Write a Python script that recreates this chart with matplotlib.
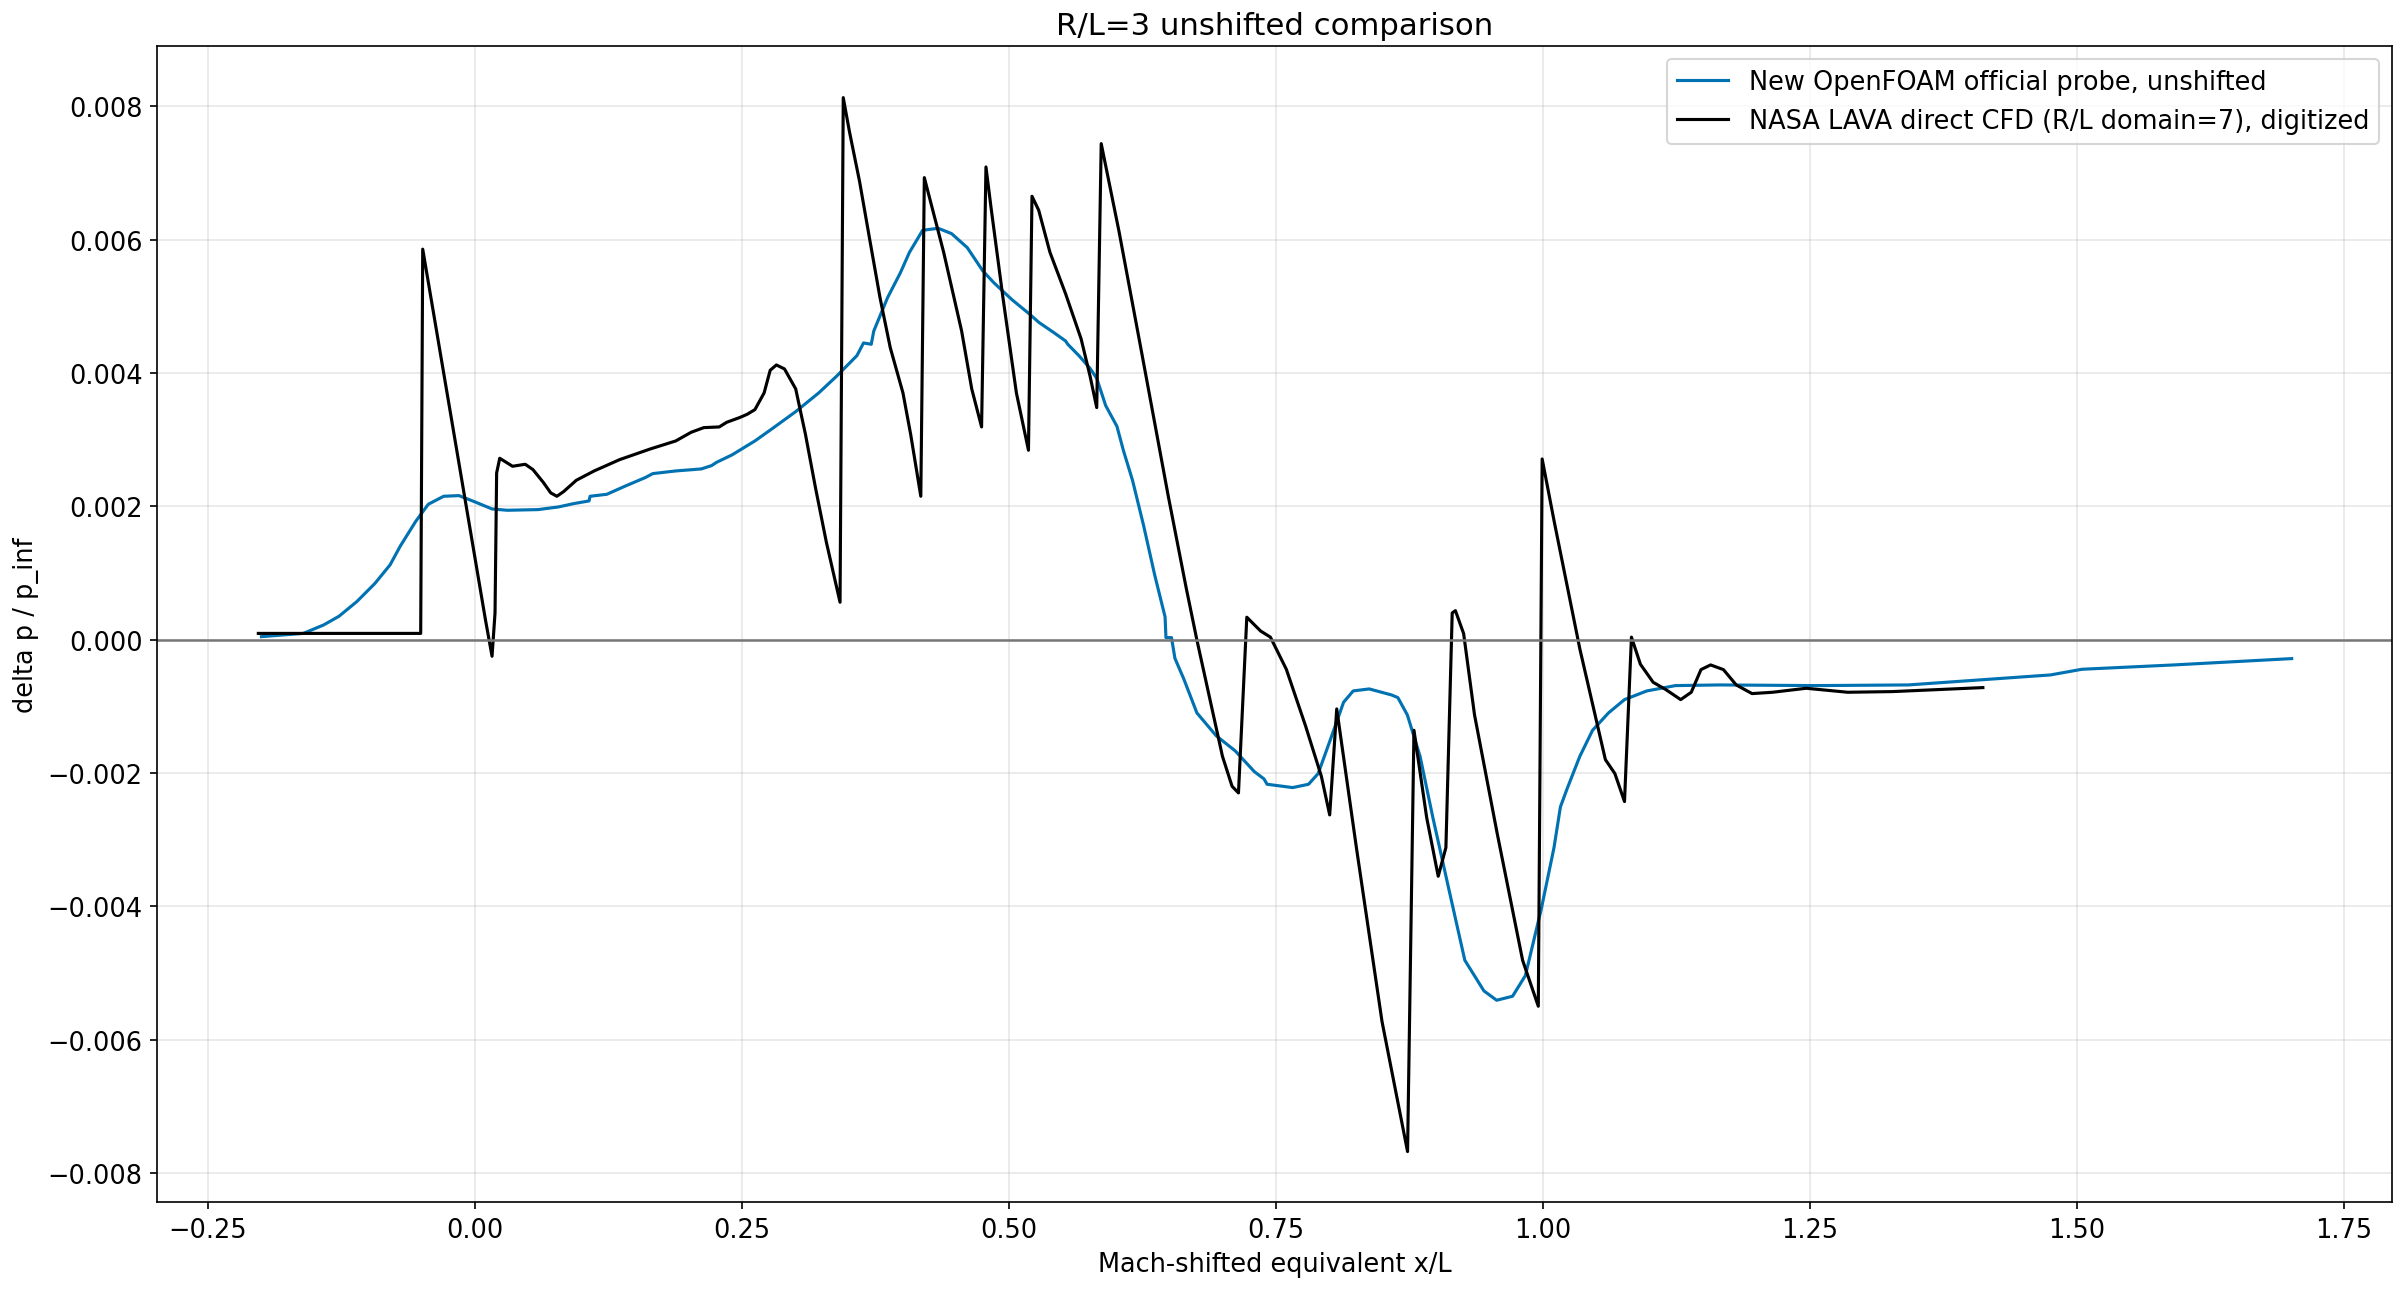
import matplotlib
matplotlib.use("Agg")
import matplotlib.pyplot as plt

# OpenFOAM probe (blue)
of_x = [-0.1997, -0.1605, -0.1414, -0.1271, -0.1104, -0.0936, -0.0793, -0.0698, -0.0554, -0.0435,
        -0.0291, -0.0148, -0.0005, 0.0162, 0.0306, 0.0592, 0.0784, 0.0927, 0.107, 0.108,
        0.1237, 0.1405, 0.1596, 0.1667, 0.1882, 0.2121, 0.2217, 0.2265, 0.2408, 0.2623,
        0.279, 0.3005, 0.322, 0.3387, 0.3578, 0.364, 0.3712, 0.3736, 0.3865, 0.3984,
        0.407, 0.413, 0.4193, 0.4339, 0.4464, 0.4611, 0.4757, 0.4862, 0.5029, 0.5196,
        0.528, 0.5426, 0.5531, 0.5552, 0.5656, 0.576, 0.5823, 0.5907, 0.6012, 0.6074,
        0.6158, 0.6262, 0.6367, 0.6463, 0.6471, 0.6523, 0.6555, 0.6638, 0.6761, 0.694,
        0.712, 0.7298, 0.7389, 0.7418, 0.7657, 0.7806, 0.7896, 0.8015, 0.8134, 0.8224,
        0.8374, 0.8582, 0.8642, 0.8731, 0.885, 0.897, 0.9119, 0.9269, 0.9448, 0.9567,
        0.9716, 0.9836, 0.9985, 1.0104, 1.0164, 1.0226, 1.0346, 1.0465, 1.0614, 1.0764,
        1.0973, 1.1241, 1.1659, 1.2555, 1.3421, 1.4752, 1.5047, 1.5907, 1.701]
of_y = [0.000044, 0.000093, 0.00022, 0.00035, 0.00057, 0.00084, 0.00112, 0.0014, 0.00177, 0.00203,
        0.00215, 0.00216, 0.00207, 0.00196, 0.00194, 0.00195, 0.00199, 0.00204, 0.00208, 0.00215,
        0.00218, 0.0023, 0.00243, 0.00249, 0.00253, 0.00256, 0.00261, 0.00266, 0.00277, 0.00298,
        0.00317, 0.00342, 0.0037, 0.00395, 0.00426, 0.00445, 0.00443, 0.00463, 0.00513, 0.0055,
        0.00581, 0.00597, 0.00614, 0.00617, 0.00609, 0.00588, 0.00553, 0.00535, 0.0051, 0.00488,
        0.00476, 0.0046, 0.00448, 0.00443, 0.00426, 0.00407, 0.00392, 0.00351, 0.0032, 0.00283,
        0.00239, 0.00171, 0.00096, 0.00034, 0.00003, 0.00003, -0.00028, -0.00059, -0.0011, -0.00144,
        -0.00167, -0.00198, -0.00209, -0.00217, -0.00222, -0.00217, -0.00201, -0.00148, -0.00094, -0.00077,
        -0.00074, -0.00083, -0.00087, -0.00113, -0.00175, -0.00267, -0.00374, -0.00481, -0.00527, -0.00541,
        -0.00535, -0.00504, -0.00404, -0.00312, -0.00251, -0.00224, -0.00175, -0.00136, -0.0011, -0.0009,
        -0.00077, -0.00069, -0.00068, -0.00069, -0.00068, -0.00053, -0.000445, -0.00038, -0.000285]

# NASA LAVA digitized (black)
nasa_x = [-0.2026, -0.0506, -0.0487, 0.0100, 0.0162, 0.0190, 0.0205, 0.0234, 0.0354, 0.0473, 0.0545, 0.0641,
          0.0712, 0.0769, 0.0832, 0.0951, 0.1118, 0.1357, 0.1644, 0.1882, 0.2026, 0.2145,
          0.2289, 0.2359, 0.2479, 0.2551, 0.2623, 0.2709, 0.2766, 0.2824, 0.2900, 0.3005,
          0.3096, 0.3191, 0.3292, 0.3420, 0.3450, 0.3508, 0.3603, 0.3698, 0.3794, 0.3890,
          0.4009, 0.4081, 0.4176, 0.4209, 0.4390, 0.4558, 0.4653, 0.4745, 0.4786, 0.4832,
          0.4945, 0.5071, 0.5184, 0.5217, 0.5280, 0.5385, 0.5531, 0.5677, 0.5761, 0.5823,
          0.5865, 0.6032, 0.6242, 0.6493, 0.6660, 0.6760, 0.7000, 0.7090, 0.7150, 0.7228,
          0.7357, 0.7449, 0.7598, 0.7777, 0.7926, 0.8004, 0.8070, 0.8254, 0.8494, 0.8733,
          0.8793, 0.8912, 0.9020, 0.9092, 0.9151, 0.9181, 0.9258, 0.9360, 0.9570, 0.9810,
          0.9957, 0.9993, 1.0106, 1.0346, 1.0585, 1.0674, 1.0764, 1.0829, 1.0913, 1.1032,
          1.1151, 1.1290, 1.1389, 1.1480, 1.1570, 1.1690, 1.1810, 1.1958, 1.2150, 1.2465,
          1.2854, 1.3271, 1.4119]
nasa_y = [0.000093, 0.000093, 0.005857, 0.00030, -0.00025, 0.00040, 0.00250, 0.00272, 0.00260, 0.00263, 0.00255, 0.00236,
          0.00220, 0.00215, 0.00222, 0.00239, 0.00253, 0.00270, 0.00286, 0.00298, 0.00311, 0.00318,
          0.00319, 0.00326, 0.00333, 0.00338, 0.00345, 0.00370, 0.00404, 0.00412, 0.00406, 0.00376,
          0.00308, 0.00227, 0.00146, 0.00056, 0.00813, 0.00762, 0.00687, 0.00600, 0.00513, 0.00438,
          0.00370, 0.00308, 0.00215, 0.00693, 0.00581, 0.00463, 0.00376, 0.00319, 0.00709, 0.00650,
          0.00513, 0.00370, 0.00284, 0.00665, 0.00644, 0.00581, 0.00519, 0.00451, 0.00395, 0.00348,
          0.00744, 0.00612, 0.00432, 0.00215, 0.00078, 0.00000, -0.00175, -0.00220, -0.00230, 0.000336,
          0.000129, 0.000037, -0.000445, -0.00129, -0.00205, -0.00263, -0.00104, -0.00312, -0.00573, -0.00768,
          -0.00136, -0.00267, -0.00355, -0.00312, 0.00040, 0.000434, 0.00009, -0.00113, -0.00289, -0.00481,
          -0.00550, 0.00271, 0.00177, -0.00014, -0.00180, -0.00201, -0.00243, 0.000037, -0.00037, -0.00064,
          -0.00075, -0.00090, -0.00079, -0.00045, -0.00038, -0.00045, -0.00068, -0.00081, -0.00079, -0.00073,
          -0.00079, -0.00078, -0.00072]

plt.rcParams['font.family'] = ['DejaVu Sans']
plt.rcParams['font.size'] = 12.3

fig = plt.figure(figsize=(16, 8.6133), dpi=150)
ax = fig.add_axes([0.0654, 0.0687, 0.9313, 0.8947])

ax.plot(of_x, of_y, color='#0072B2', lw=1.5, label='New OpenFOAM official probe, unshifted')
ax.plot(nasa_x, nasa_y, color='black', lw=1.5, label='NASA LAVA direct CFD (R/L domain=7), digitized')
ax.axhline(0, color='#777777', lw=1.2)
ax.grid(True, alpha=0.3)
ax.set_xlim(-0.2975, 1.795)
ax.set_ylim(-0.00844, 0.0089)
ax.set_xlabel('Mach-shifted equivalent x/L')
ax.set_ylabel('delta p / p_inf')
ax.set_title('R/L=3 unshifted comparison')
ax.legend(loc='upper right')

fig.savefig('out.png', dpi=150)
